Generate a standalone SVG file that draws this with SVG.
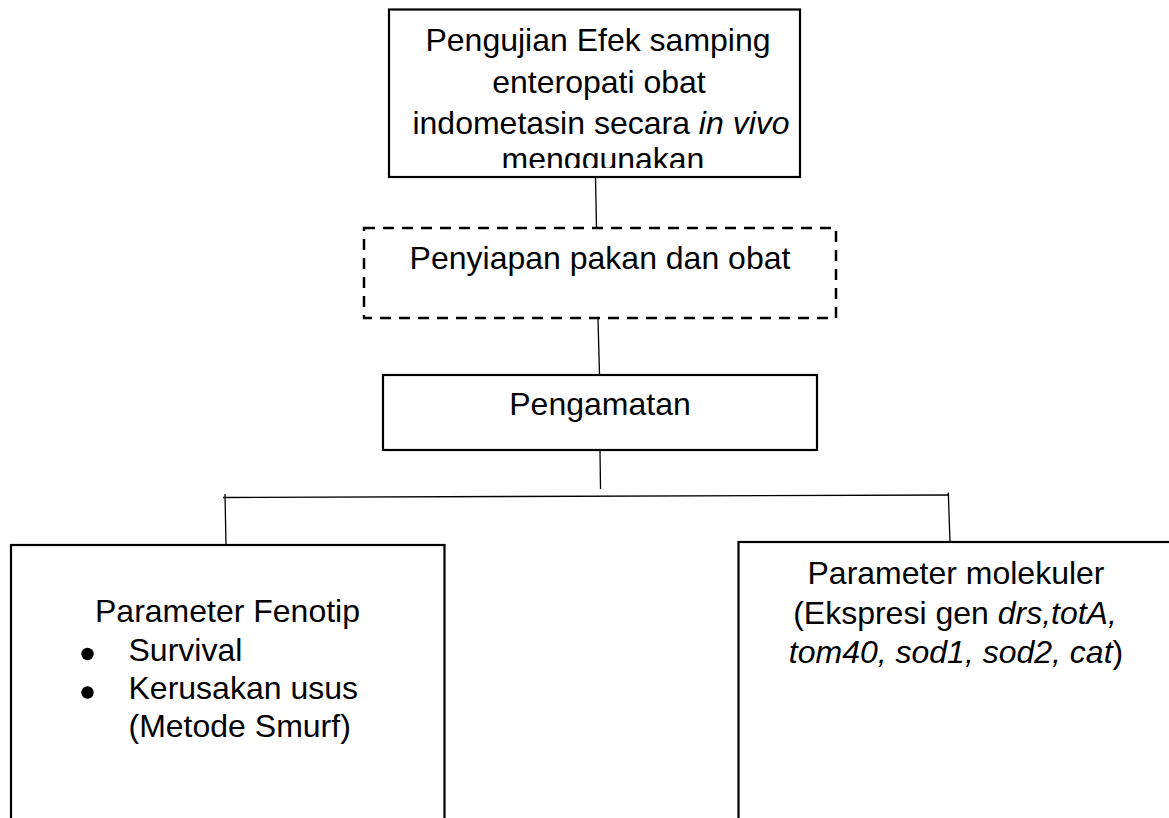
<svg xmlns="http://www.w3.org/2000/svg" width="1169" height="818" viewBox="0 0 1169 818">
<style>
.box{fill:#fff;stroke:#000;stroke-width:2.2}
.dash{fill:#fff;stroke:#000;stroke-width:2.5;stroke-dasharray:11 8}
.con{stroke:#000;stroke-width:1.3;fill:none}
text{font-family:"Liberation Sans",Arial,sans-serif;font-size:32px;fill:#000}
.c{text-anchor:middle}
.i{font-style:italic}
</style>
<defs>
<clipPath id="clipTop"><rect x="390" y="11" width="409" height="157"/></clipPath>
</defs>
<rect width="1169" height="818" fill="#fff"/>
<g id="connectors">
<line class="con" x1="595.5" y1="178" x2="596.5" y2="228"/>
<line class="con" x1="598" y1="319" x2="599.5" y2="375"/>
<line class="con" x1="600" y1="451" x2="600.5" y2="489"/>
<line class="con" x1="223" y1="497.5" x2="949" y2="495"/>
<line class="con" x1="225" y1="494" x2="226" y2="545"/>
<line class="con" x1="948.3" y1="492.5" x2="950" y2="542"/>
</g>
<g id="node-top">
<rect class="box" x="389" y="9.5" width="411" height="167.5"/>
<g clip-path="url(#clipTop)">
<text class="c" x="598" y="51">Pengujian Efek samping</text>
<text class="c" x="599" y="93">enteropati obat</text>
<text class="c" x="601" y="134">indometasin secara <tspan class="i">in vivo</tspan></text>
<text class="c" x="603" y="170">menggunakan</text>
</g>
</g>
<g id="node-penyiapan">
<rect class="dash" x="364" y="228" width="472" height="90"/>
<text class="c" x="600" y="269">Penyiapan pakan dan obat</text>
</g>
<g id="node-pengamatan">
<rect class="box" x="383" y="375" width="434" height="75"/>
<text class="c" x="600" y="415">Pengamatan</text>
</g>
<g id="node-fenotip">
<rect class="box" x="11" y="545" width="433.5" height="290"/>
<text class="c" x="227.5" y="622">Parameter Fenotip</text>
<circle cx="87.5" cy="654" r="6.2"/>
<text x="128.5" y="661">Survival</text>
<circle cx="87.5" cy="692.5" r="6.2"/>
<text x="128.5" y="699">Kerusakan usus</text>
<text x="128.5" y="737">(Metode Smurf)</text>
</g>
<g id="node-molekuler">
<rect class="box" x="738.5" y="542" width="440" height="300"/>
<text class="c" x="956" y="584">Parameter molekuler</text>
<text class="c" x="955" y="623.5">(Ekspresi gen <tspan class="i">drs,totA,</tspan></text>
<text class="c" x="956" y="663"><tspan class="i">tom40, sod1, sod2, cat</tspan>)</text>
</g>
</svg>
